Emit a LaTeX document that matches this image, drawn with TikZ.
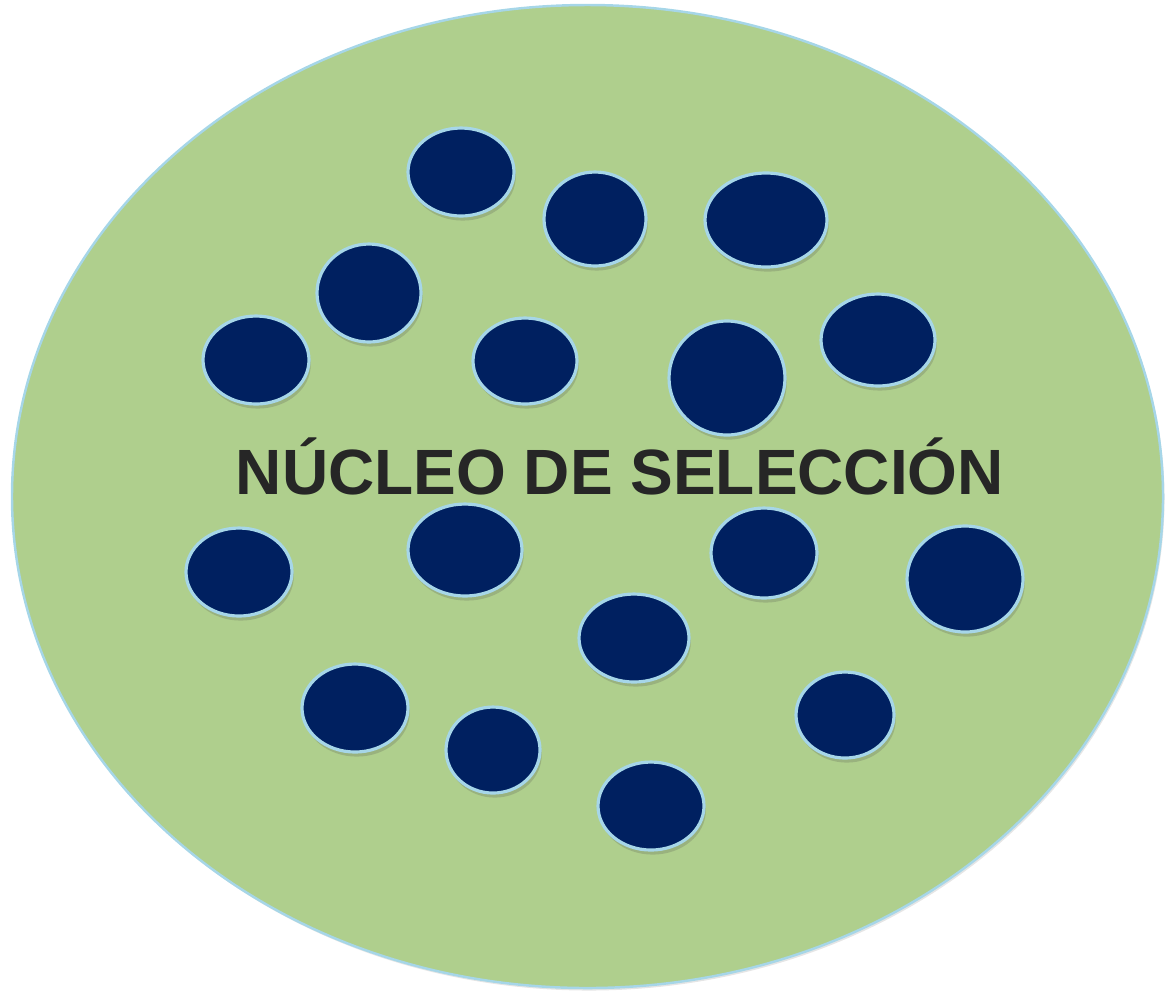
\documentclass[tikz,border=0pt]{standalone}
\usepackage{fontspec}
\setmainfont{Liberation Sans}
\usetikzlibrary{shadows}
\definecolor{cellgreen}{RGB}{175,207,141}
\definecolor{navy}{RGB}{0,32,96}
\definecolor{rimblue}{RGB}{166,214,232}
\definecolor{txt}{RGB}{38,38,38}
\tikzset{
  dot/.style={fill=navy, draw=rimblue, line width=0.9pt,
    drop shadow={shadow xshift=0.5pt, shadow yshift=-1.3pt, opacity=0.22, fill=black!70}},
}
\begin{document}
\begin{tikzpicture}[x=0.01cm,y=-0.01cm]
\useasboundingbox (0,0) rectangle (1171,990);
\fill[black!25, opacity=0.4] (589,499) ellipse [x radius=575.5, y radius=491.5];
\filldraw[fill=cellgreen, draw=rimblue, line width=0.7pt] (587.5,496.5) ellipse [x radius=575.5, y radius=491.5];
\coordinate (c) at (587.5,496.5);
\foreach \n/\x/\y/\rx/\ry in {
 d1/461/172/53/44, d2/595/219/51/47, d3/766/220/61/47, d4/369/293/52/49,
 d5/256/360/53/44, d6/525/361/52/43, d7/727/378/58/57, d8/878/340/57/46,
 d9/239/572/53/44, d10/465/550/57/46, d11/764/553/53/45, d12/965/579/58/53,
 d13/634/638/55/44, d14/355/708/53/44, d15/493/750/47/43, d16/845/715/49/43,
 d17/651/806/53/44}{
  \path[dot] (\x,\y) ellipse [x radius=\rx, y radius=\ry];
}
\node[anchor=base, text=txt, font=\fontsize{18.2pt}{20pt}\selectfont\bfseries, inner sep=0pt] (title) at (620,494) {NÚCLEO DE SELECCIÓN};
\end{tikzpicture}
\end{document}
